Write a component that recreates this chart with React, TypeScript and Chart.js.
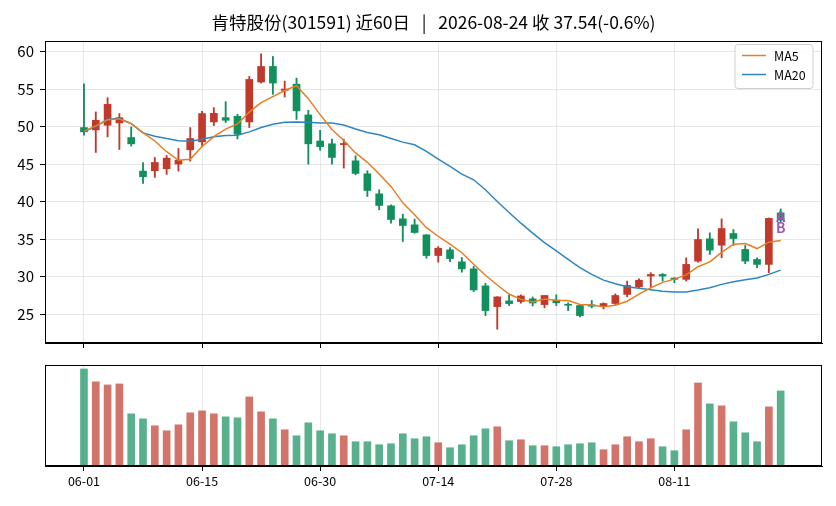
import React, { useEffect, useRef } from 'react';
import { Chart, registerables } from 'chart.js';

Chart.register(...registerables);

const TITLE = '肯特股份(301591) 近60日   |   2026-08-24 收 37.54(-0.6%)';

const DATES = [
  '06-01', '06-02', '06-03', '06-04', '06-05', '06-08', '06-09', '06-10', '06-11', '06-12',
  '06-15', '06-16', '06-17', '06-18', '06-22', '06-23', '06-24', '06-25', '06-26', '06-29',
  '06-30', '07-01', '07-02', '07-03', '07-06', '07-07', '07-08', '07-09', '07-10', '07-13',
  '07-14', '07-15', '07-16', '07-17', '07-20', '07-21', '07-22', '07-23', '07-24', '07-27',
  '07-28', '07-29', '07-30', '07-31', '08-03', '08-04', '08-05', '08-06', '08-07', '08-10',
  '08-11', '08-12', '08-13', '08-14', '08-17', '08-18', '08-19', '08-20', '08-21', '08-24',
];

const OPEN = [
  49.87, 49.56, 50.18, 50.49, 48.54, 44.07, 44.12, 44.38, 45.0, 46.9,
  47.96, 50.62, 51.19, 51.37, 50.62, 55.93, 58.01, 54.82, 55.65, 51.55,
  48.08, 47.71, 47.6, 45.44, 43.71, 41.04, 39.44, 37.71, 36.91, 35.58,
  32.82, 33.58, 31.98, 31.04, 28.78, 26.02, 26.78, 26.69, 27.05, 26.29,
  26.88, 26.3, 26.16, 26.25, 26.07, 26.43, 27.64, 28.66, 30.09, 30.3,
  29.82, 29.65, 32.08, 35.04, 34.2, 35.75, 33.63, 32.3, 31.64, 38.5,
];
const HIGH = [
  55.71, 51.95, 53.85, 51.73, 49.96, 45.22, 45.88, 46.15, 47.08, 49.87,
  52.04, 52.52, 53.32, 51.64, 56.68, 59.69, 59.34, 56.06, 56.45, 52.16,
  49.5, 48.33, 48.33, 46.11, 44.11, 41.58, 39.58, 38.33, 37.67, 35.6,
  34.02, 33.89, 32.56, 31.36, 29.13, 27.35, 27.58, 27.58, 27.3, 27.5,
  27.59, 26.52, 26.16, 26.83, 26.52, 27.72, 29.42, 29.73, 30.54, 30.42,
  29.87, 32.52, 36.37, 35.84, 37.7, 36.28, 34.16, 32.52, 37.83, 39.03,
];
const LOW = [
  48.85, 46.55, 48.63, 46.95, 47.39, 42.43, 43.23, 43.63, 44.07, 45.4,
  47.39, 50.13, 50.53, 48.36, 49.87, 55.8, 54.29, 53.94, 50.95, 45.0,
  46.84, 45.0, 44.47, 43.58, 40.69, 38.91, 37.13, 34.69, 35.8, 32.47,
  31.93, 32.02, 30.6, 28.02, 24.82, 23.0, 26.16, 26.47, 26.1, 25.85,
  26.16, 25.49, 24.64, 25.85, 25.71, 26.29, 27.32, 28.53, 28.6, 29.42,
  29.2, 29.42, 31.95, 32.96, 32.52, 34.16, 31.73, 31.19, 30.53, 37.17,
];
const CLOSE = [
  49.3, 50.84, 52.96, 51.19, 47.7, 43.32, 45.22, 45.8, 45.53, 48.41,
  51.73, 51.77, 50.84, 48.98, 56.28, 58.01, 55.8, 55.0, 52.1, 47.7,
  47.33, 45.89, 47.75, 43.76, 41.49, 39.49, 37.62, 36.82, 35.89, 32.82,
  33.8, 32.42, 31.04, 28.24, 25.49, 27.31, 26.42, 27.44, 26.5, 27.5,
  26.52, 26.2, 24.82, 26.07, 26.43, 27.5, 28.84, 29.53, 30.3, 30.09,
  29.65, 31.64, 34.96, 33.54, 36.42, 35.09, 32.08, 31.64, 37.77, 37.54,
];

const MA5 = [
  49.4, 50.1, 50.9, 51.0, 50.4, 49.2, 48.08, 46.65, 45.51, 45.66,
  47.34, 48.65, 49.66, 50.35, 51.92, 53.18, 53.98, 54.81, 55.44, 53.72,
  51.59, 49.6, 48.15, 46.49, 45.24, 43.69, 42.03, 39.84, 38.26, 36.53,
  35.39, 34.35, 33.19, 31.66, 30.2, 28.9, 27.7, 26.98, 26.63, 27.03,
  26.88, 26.83, 26.31, 26.22, 26.01, 26.2, 26.73, 27.67, 28.52, 29.25,
  29.68, 30.24, 31.33, 31.98, 33.24, 34.33, 34.42, 33.75, 34.6, 34.82,
];
const MA20 = [
  49.29, 50.04, 50.97, 51.06, 50.4, 49.16, 48.72, 48.41, 48.1, 48.05,
  48.32, 48.63, 48.81, 48.85, 49.29, 49.87, 50.31, 50.58, 50.62, 50.58,
  50.48, 50.47, 50.2, 49.67, 49.22, 48.91, 48.42, 47.93, 47.58, 46.69,
  45.67, 44.69, 43.67, 42.91, 41.58, 40.02, 38.56, 37.13, 35.8, 34.55,
  33.44, 32.32, 31.21, 30.31, 29.55, 29.06, 28.66, 28.45, 28.25, 28.06,
  27.95, 27.98, 28.23, 28.54, 28.98, 29.34, 29.6, 29.82, 30.31, 30.88,
];

const VOLUME = [
  29.2, 25.3, 24.4, 24.7, 15.7, 14.2, 12.1, 10.6, 12.4, 16.0,
  16.6, 15.7, 14.8, 14.5, 20.8, 16.3, 14.2, 10.9, 9.1, 13.0,
  10.6, 9.7, 9.1, 7.3, 7.3, 6.4, 6.7, 9.7, 8.2, 8.8,
  7.0, 5.5, 6.4, 9.1, 11.2, 11.8, 7.6, 7.9, 6.1, 6.1,
  5.8, 6.4, 6.7, 7.0, 4.9, 6.4, 8.8, 7.3, 8.2, 5.8,
  4.6, 10.9, 25.0, 18.7, 18.1, 13.3, 10.0, 7.3, 17.8, 22.6,
];

const Y_TICKS = [25, 30, 35, 40, 45, 50, 55, 60];
const X_TICK_INDEX = [0, 10, 20, 30, 40, 50];
const SIGNALS = [
  { text: 'A', index: 59, price: 37.95 },
  { text: 'B', index: 59, price: 36.5 },
];
const LEGEND_ITEMS = ['MA5', 'MA20'];

const UP = 'rgb(192,57,43)';
const DOWN = 'rgb(17,143,93)';
const UP_VOL = 'rgba(192,57,43,0.7)';
const DOWN_VOL = 'rgba(17,143,93,0.7)';
const MA5_COLOR = '#e67e22';
const MA20_COLOR = '#2e86c1';
const SIGNAL_COLOR = '#9b59b6';
const GRID = 'rgba(0,0,0,0.09)';
const FONT = '"Noto Sans CJK SC", "Noto Sans", sans-serif';

const X_MIN = -3.3;
const X_MAX = 62.5;

const isUp = (i: number) => CLOSE[i] >= OPEN[i];

const boxPlugin = {
  id: 'box',
  afterDraw(chart: any) {
    const { ctx, chartArea } = chart;
    ctx.save();
    ctx.strokeStyle = '#000';
    ctx.lineWidth = 1;
    ctx.strokeRect(
      Math.round(chartArea.left) + 0.5,
      Math.round(chartArea.top) + 0.5,
      Math.round(chartArea.right - chartArea.left) - 1,
      Math.round(chartArea.bottom - chartArea.top) - 1
    );
    ctx.restore();
  },
};

const mainDecor = {
  id: 'mainDecor',
  afterDraw(chart: any) {
    const { ctx, chartArea, scales } = chart;
    ctx.save();
    // title
    ctx.fillStyle = '#000';
    ctx.font = `17.5px ${FONT}`;
    ctx.textAlign = 'center';
    ctx.textBaseline = 'middle';
    ctx.fillText(TITLE, (chartArea.left + chartArea.right) / 2, 22);

    // signals
    ctx.font = `bold 14px ${FONT}`;
    ctx.fillStyle = SIGNAL_COLOR;
    SIGNALS.forEach((s) => {
      ctx.fillText(s.text, scales.x.getPixelForValue(s.index), scales.y.getPixelForValue(s.price));
    });

    // legend
    const bx = chartArea.right - 87;
    const by = chartArea.top + 3.5;
    const bw = 78;
    const bh = 44;
    ctx.beginPath();
    const r = 3;
    ctx.moveTo(bx + r, by);
    ctx.lineTo(bx + bw - r, by);
    ctx.arcTo(bx + bw, by, bx + bw, by + r, r);
    ctx.lineTo(bx + bw, by + bh - r);
    ctx.arcTo(bx + bw, by + bh, bx + bw - r, by + bh, r);
    ctx.lineTo(bx + r, by + bh);
    ctx.arcTo(bx, by + bh, bx, by + bh - r, r);
    ctx.lineTo(bx, by + r);
    ctx.arcTo(bx, by, bx + r, by, r);
    ctx.closePath();
    ctx.fillStyle = 'rgba(255,255,255,0.85)';
    ctx.fill();
    ctx.strokeStyle = '#d0d0d0';
    ctx.lineWidth = 1;
    ctx.stroke();
    const colors = [MA5_COLOR, MA20_COLOR];
    ctx.font = `12.5px ${FONT}`;
    ctx.textAlign = 'left';
    LEGEND_ITEMS.forEach((name, k) => {
      const y = by + 11 + k * 19;
      ctx.strokeStyle = colors[k];
      ctx.lineWidth = 1.5;
      ctx.beginPath();
      ctx.moveTo(bx + 7, y);
      ctx.lineTo(bx + 31, y);
      ctx.stroke();
      ctx.fillStyle = '#000';
      ctx.fillText(name, bx + 39, y + 0.5);
    });
    ctx.restore();
  },
};

function buildMain(canvas: HTMLCanvasElement) {
  return new Chart(canvas, {
    type: 'bar',
    data: {
      datasets: [
        {
          type: 'line',
          label: 'MA5',
          data: MA5.map((v, i) => ({ x: i, y: v })),
          borderColor: MA5_COLOR,
          borderWidth: 1.5,
          pointRadius: 0,
          tension: 0,
          order: 0,
        } as any,
        {
          type: 'line',
          label: 'MA20',
          data: MA20.map((v, i) => ({ x: i, y: v })),
          borderColor: MA20_COLOR,
          borderWidth: 1.5,
          pointRadius: 0,
          tension: 0,
          order: 0,
        } as any,
        {
          type: 'bar',
          label: 'body',
          data: OPEN.map((o, i) => ({ x: i, y: [o, CLOSE[i]] })),
          backgroundColor: OPEN.map((_, i) => (isUp(i) ? UP : DOWN)),
          barThickness: 7,
          minBarLength: 1,
          grouped: false,
          order: 1,
        } as any,
        {
          type: 'bar',
          label: 'wick',
          data: LOW.map((l, i) => ({ x: i, y: [l, HIGH[i]] })),
          backgroundColor: OPEN.map((_, i) => (isUp(i) ? UP : DOWN)),
          barThickness: 1.2,
          grouped: false,
          order: 2,
        } as any,
      ],
    },
    options: {
      animation: false,
      responsive: false,
      layout: { padding: { top: 41, right: 14, left: 0, bottom: 0 } },
      plugins: { legend: { display: false }, tooltip: { enabled: false }, title: { display: false } },
      scales: {
        x: {
          type: 'linear',
          min: X_MIN,
          max: X_MAX,
          offset: false,
          afterBuildTicks: (s: any) => {
            s.ticks = X_TICK_INDEX.map((v) => ({ value: v }));
          },
          ticks: { display: false },
          grid: { color: GRID, tickColor: '#000', tickLength: 5, offset: false },
          border: { color: '#000' },
          afterFit: (s: any) => {
            s.height = 7;
            s.paddingLeft = 0;
            s.paddingRight = 0;
          },
        },
        y: {
          type: 'linear',
          min: 21.17,
          max: 61.4,
          afterBuildTicks: (s: any) => {
            s.ticks = Y_TICKS.map((v) => ({ value: v }));
          },
          ticks: { color: '#000', padding: 6, font: { family: FONT, size: 15 } },
          grid: { color: GRID, tickColor: '#000', tickLength: 5 },
          border: { color: '#000' },
          afterFit: (s: any) => {
            s.width = 45;
            s.paddingTop = 0;
            s.paddingBottom = 0;
          },
        },
      },
    } as any,
    plugins: [boxPlugin, mainDecor],
  });
}

function buildVolume(canvas: HTMLCanvasElement) {
  return new Chart(canvas, {
    type: 'bar',
    data: {
      datasets: [
        {
          label: 'volume',
          data: VOLUME.map((v, i) => ({ x: i, y: v })),
          backgroundColor: VOLUME.map((_, i) => (isUp(i) ? UP_VOL : DOWN_VOL)),
          barThickness: 7,
        } as any,
      ],
    },
    options: {
      animation: false,
      responsive: false,
      layout: { padding: { top: 15, right: 14, left: 45, bottom: 0 } },
      plugins: { legend: { display: false }, tooltip: { enabled: false } },
      scales: {
        x: {
          type: 'linear',
          min: X_MIN,
          max: X_MAX,
          offset: false,
          afterBuildTicks: (s: any) => {
            s.ticks = X_TICK_INDEX.map((v) => ({ value: v }));
          },
          ticks: {
            color: '#000',
            padding: 3,
            maxRotation: 0,
            font: { family: FONT, size: 12.5 },
            callback: (v: any) => DATES[Number(v)] ?? '',
          },
          grid: { color: GRID, tickColor: '#000', tickLength: 5, offset: false },
          border: { color: '#000' },
          afterFit: (s: any) => {
            s.height = 40;
            s.paddingLeft = 0;
            s.paddingRight = 0;
          },
        },
        y: { display: false, min: 0, max: 30.4 },
      },
    } as any,
    plugins: [boxPlugin],
  });
}

export default function App() {
  const mainRef = useRef<HTMLCanvasElement>(null);
  const volRef = useRef<HTMLCanvasElement>(null);

  useEffect(() => {
    let charts: Chart[] = [];
    let cancelled = false;
    const make = () => {
      if (cancelled || !mainRef.current || !volRef.current) return;
      charts = [buildMain(mainRef.current), buildVolume(volRef.current)];
    };
    const fonts = (document as any).fonts;
    if (fonts && fonts.load) {
      Promise.all([
        fonts.load(`15px "Noto Sans CJK SC"`),
        fonts.load(`bold 14px "Noto Sans CJK SC"`),
      ])
        .catch(() => null)
        .then(make);
    } else {
      make();
    }
    return () => {
      cancelled = true;
      charts.forEach((c) => c.destroy());
    };
  }, []);

  return (
    <div style={{ position: 'absolute', left: 0, top: 0, width: 836, height: 506, background: '#fff' }}>
      <canvas ref={mainRef} width={836} height={350} style={{ position: 'absolute', left: 0, top: 0, width: 836, height: 350 }} />
      <canvas ref={volRef} width={836} height={156} style={{ position: 'absolute', left: 0, top: 350, width: 836, height: 156 }} />
    </div>
  );
}
